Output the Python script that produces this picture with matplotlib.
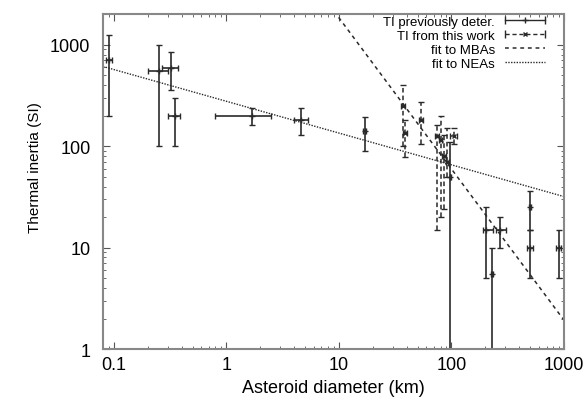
import numpy as np
import matplotlib.pyplot as plt
from matplotlib.lines import Line2D
from matplotlib.legend_handler import HandlerLine2D, HandlerTuple

plt.rcParams['font.family'] = ['Liberation Sans', 'DejaVu Sans']

# TI previously determined
prev_d = [0.09, 0.25, 0.32, 0.35, 1.7, 4.6, 17, 98, 205, 230, 270, 500, 500, 900]
prev_d_lo = [0.085, 0.2, 0.27, 0.30, 0.8, 4.0, 16.5, 97, 190, 225, 250, 490, 470, 850]
prev_d_hi = [0.097, 0.3, 0.37, 0.39, 2.5, 5.3, 17.5, 99, 232, 235, 305, 510, 535, 950]
prev_ti = [700, 550, 590, 200, 200, 180, 140, 50, 15, 5.5, 15, 25, 10, 10]
prev_ti_lo = [200, 100, 360, 100, 160, 130, 90, 0.5, 5, 0.5, 10, 15, 5, 5]
prev_ti_hi = [1250, 1000, 840, 300, 240, 240, 195, 110, 25, 10, 20, 36, 15, 15]

# TI from this work
new_d = [37, 39, 54, 75, 80, 86, 92, 105]
new_d_lo = [35.5, 37.5, 52, 72, 77, 83, 89, 97]
new_d_hi = [38.5, 40.5, 56, 78, 83, 89, 95, 113]
new_ti = [250, 135, 180, 125, 115, 80, 70, 125]
new_ti_lo = [100, 78, 105, 15, 20, 24, 50, 105]
new_ti_hi = [400, 180, 270, 160, 200, 130, 150, 150]

# power law fits  TI = a * D**b
mba_fit = (57000, -1.49)
nea_fit = (277, -0.313)

col = '#2a2a2a'

fig = plt.figure(figsize=(5.85, 4.1), dpi=100)
ax = fig.add_axes([0.176, 0.146, 0.788, 0.817])

d = np.array(prev_d); t = np.array(prev_ti)
ax.errorbar(d, t,
            xerr=[d - np.array(prev_d_lo), np.array(prev_d_hi) - d],
            yerr=[t - np.array(prev_ti_lo), np.array(prev_ti_hi) - t],
            fmt='+', ms=4, color=col, ecolor=col, elinewidth=1.2, capsize=2.5, capthick=1)

d = np.array(new_d); t = np.array(new_ti)
eb = ax.errorbar(d, t,
                 xerr=[d - np.array(new_d_lo), np.array(new_d_hi) - d],
                 yerr=[t - np.array(new_ti_lo), np.array(new_ti_hi) - t],
                 fmt='x', ms=3.5, color=col, ecolor=col, elinewidth=1.1, capsize=2.5, capthick=1)
for bars in eb[2]:
    bars.set_linestyle((0, (3, 2)))

xx = np.logspace(np.log10(0.08), 3, 200)
ax.plot(xx, mba_fit[0] * xx ** mba_fit[1], color=col, ls=(0, (2.5, 2.5)), lw=1.1)
ax.plot(xx, nea_fit[0] * xx ** nea_fit[1], color=col, ls=(0, (1, 1)), lw=1.0)

ax.set_xscale('log')
ax.set_yscale('log')
ax.set_xlim(0.08, 1000)
ax.set_ylim(1, 2000)
ax.set_xticks([0.1, 1, 10, 100, 1000])
ax.set_xticklabels(['0.1', '1', '10', '100', '1000'])
ax.set_yticks([1, 10, 100, 1000])
ax.set_yticklabels(['1', '10', '100', '1000'])
ax.tick_params(which='both', direction='in', top=True, right=True, color='#555555', labelsize=13)
ax.tick_params(which='major', length=5)
ax.tick_params(which='minor', length=2.5)
ax.tick_params(axis='x', pad=5)
ax.tick_params(axis='y', pad=9)
for s in ax.spines.values():
    s.set_color('#888888')
    s.set_linewidth(1.5)
ax.set_xlabel('Asteroid diameter (km)', fontsize=13, labelpad=4)
ax.set_ylabel('Thermal inertia (SI)', fontsize=11)
ax.yaxis.set_label_coords(-0.132, 0.546)

h_prev = (Line2D([], [], color=col, ls='-', lw=1, marker='|', ms=6),
          Line2D([], [], color=col, ls='none', marker='+', ms=4))
h_new = (Line2D([], [], color=col, ls=(0, (3, 2)), lw=1, marker='|', ms=6),
         Line2D([], [], color=col, ls='none', marker='x', ms=3.5))
h_mba = Line2D([], [], color=col, ls=(0, (2.5, 2.5)), lw=1.1)
h_nea = Line2D([], [], color=col, ls=(0, (1, 1)), lw=1.0)
hm = {h_prev[0]: HandlerLine2D(numpoints=2, marker_pad=0), h_new[0]: HandlerLine2D(numpoints=2, marker_pad=0),
      h_prev[1]: HandlerLine2D(numpoints=1), h_new[1]: HandlerLine2D(numpoints=1),
      tuple: HandlerTuple(ndivide=1)}
ax.legend([h_prev, h_new, h_mba, h_nea],
          ['TI previously deter.', 'TI from this work', 'fit to MBAs', 'fit to NEAs'],
          handler_map=hm, loc='upper right', bbox_to_anchor=(0.959, 0.995),
          frameon=False, markerfirst=False, fontsize=9.5,
          handlelength=3.0, labelspacing=0.12, borderaxespad=0, borderpad=0, handletextpad=0.8)

fig.savefig('out.png', dpi=100)
